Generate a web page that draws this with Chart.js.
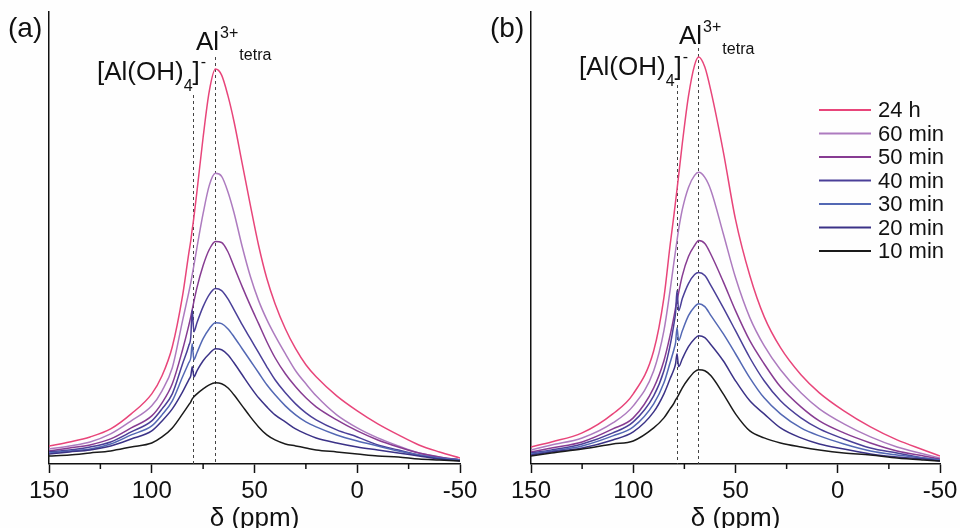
<!DOCTYPE html>
<html>
<head>
<meta charset="utf-8">
<script src="https://cdn.jsdelivr.net/npm/chart.js@4.4.1/dist/chart.umd.min.js"></script>
<style>
  html, body { margin: 0; padding: 0; background: #fefefe; }
  #page { position: relative; width: 960px; height: 528px; overflow: hidden; background: #fefefe; }
  .panel { position: absolute; top: 0; width: 480px; height: 528px; }
</style>
</head>
<body>
<div id="page">
  <div class="panel" style="left:0"><canvas id="chartA" width="480" height="528"></canvas></div>
  <div class="panel" style="left:480px"><canvas id="chartB" width="480" height="528"></canvas></div>
</div>
<script>
// series names, legend order (top to bottom)
const seriesNames = ['24 h', '60 min', '50 min', '40 min', '30 min', '20 min', '10 min'];

// x axis (ppm, reversed)
const xMin = -50, xMax = 150;
const majorTicks = [150, 100, 50, 0, -50];
const minorTicks = [125, 75, 25, -25];

// ---- panel (a) ----
const ppmA = [150, 140, 130, 120, 110, 100, 95, 90, 85, 82, 81, 80.3, 79.5, 78, 75, 72, 69, 66, 63, 60,
              56, 52, 48, 44, 40, 35, 30, 25, 20, 10, 0, -10, -20, -30, -40, -50];
const a24h  = [18, 22, 27, 35, 50, 70, 88, 117, 168, 210, 223, 234, 246, 272, 326, 372, 394, 388, 368, 342,
               300, 258, 218, 185, 160, 135, 115, 99, 87, 68, 53, 40, 29, 19, 12, 6];
const a60m  = [15, 18, 22, 30, 43, 58, 73, 96, 143, 171, 181, 189, 198, 216, 250, 278, 290, 287, 272, 251,
               217, 187, 163, 144, 128, 110, 93, 80, 68, 49, 36, 26, 18, 11, 7, 4];
const a50m  = [13, 16, 19, 25, 36, 48, 61, 80, 114, 138, 147, 154, 162, 176, 198, 214, 222, 221, 212, 197,
               177, 158, 140, 122, 106, 90, 77, 66, 57, 44, 33, 24, 17, 11, 7, 4];
const a40m  = [12, 14, 17, 22, 32, 43, 55, 70, 100, 118, 127, 154, 132, 141, 157, 169, 175, 173, 165, 154,
               139, 125, 111, 97, 84, 71, 60, 51, 44, 34, 27, 19, 14, 9, 6, 4];
const a30m  = [11, 13, 15, 20, 29, 38, 49, 63, 87, 101, 106, 120, 104, 111, 125, 135, 141, 140, 135, 127,
               115, 103, 91, 79, 69, 58, 49, 42, 37, 29, 23, 18, 13, 9, 6, 4];
const a20m  = [10, 12, 14, 18, 25, 33, 43, 55, 72, 84, 88, 97, 87, 93, 103, 110, 115, 114, 109, 101,
               89, 77, 66, 57, 49, 42, 35, 30, 26, 21, 17, 14, 11, 8, 5, 3];
const a10m  = [8, 9, 11, 13, 17, 21, 27, 36, 50, 59, 62, 65, 67, 70, 75, 79, 81, 80, 76, 69,
               58, 47, 37, 29, 24, 20, 18, 16, 14, 12, 10, 8, 7, 5, 4, 3];
const markersA = [80, 69];

// ---- panel (b) ----
const ppmB = [150, 140, 125, 110, 100, 90, 85, 82, 80, 79.3, 78.6, 77.8, 76, 73, 70, 68, 65, 62,
              56, 50, 43, 36, 28, 18, 9, -3, -16, -29, -42, -50];
const b24h  = [17, 22, 31, 50, 70, 113, 166, 218, 250, 262, 274, 288, 320, 367, 398, 406, 396, 372,
               312, 244, 188, 147, 116, 89, 71, 53, 37, 24, 14, 8];
const b60m  = [14, 19, 26, 41, 58, 93, 133, 173, 203, 213, 223, 234, 254, 276, 288, 291, 286, 273,
               230, 186, 146, 118, 94, 71, 55, 40, 27, 17, 10, 6];
const b50m  = [12, 16, 22, 35, 46, 76, 103, 128, 148, 156, 163, 171, 188, 207, 218, 223, 220, 209,
               182, 153, 123, 100, 77, 57, 43, 31, 21, 13, 8, 5];
const b40m  = [11, 14, 20, 31, 42, 68, 93, 118, 141, 151, 173, 153, 165, 180, 189, 191, 188, 178,
               156, 133, 106, 83, 63, 46, 35, 25, 16, 11, 6, 4];
const b30m  = [10, 13, 18, 28, 37, 60, 81, 101, 115, 121, 136, 123, 133, 148, 157, 160, 157, 148,
               130, 110, 86, 66, 50, 36, 28, 20, 13, 9, 6, 4];
const b20m  = [9, 12, 16, 24, 32, 52, 70, 85, 95, 100, 110, 97, 105, 117, 125, 128, 126, 119,
               103, 83, 63, 50, 36, 26, 20, 15, 10, 7, 5, 3];
const b10m  = [8, 11, 15, 20, 23, 36, 46, 55, 61, 64, 66, 69, 76, 85, 92, 94, 93, 88,
               70, 50, 33, 26, 21, 17, 14, 11, 9, 6, 4, 3];
const markersB = [78.6, 68.3];

// colours, same order as seriesNames
const lineColors = ['#e8457a', '#ad7bbf', '#873c92', '#4a3f98', '#5368b4', '#3b3287', '#1a1a1a'];

Chart.defaults.font.family = 'Arial, "Liberation Sans", sans-serif';
Chart.defaults.color = '#111';

// dashed marker lines, minor ticks, labels and legend
const decor = {
    id: 'decor',
    beforeDatasetsDraw(chart, args, opts) {
        const ctx = chart.ctx, xs = chart.scales.x, area = chart.chartArea;
        ctx.save();
        ctx.setLineDash([3, 3]);
        ctx.strokeStyle = '#444';
        ctx.lineWidth = 1;
        opts.markers.forEach((m, i) => {
            const px = Math.round(xs.getPixelForValue(m)) + 0.5;
            ctx.beginPath();
            ctx.moveTo(px, opts.markerTop[i]);
            ctx.lineTo(px, area.bottom);
            ctx.stroke();
        });
        ctx.restore();
    },
    afterDraw(chart, args, opts) {
        const ctx = chart.ctx, xs = chart.scales.x, area = chart.chartArea;
        ctx.save();
        // minor ticks
        ctx.strokeStyle = '#111';
        ctx.lineWidth = 1.5;
        minorTicks.forEach(v => {
            const px = xs.getPixelForValue(v);
            ctx.beginPath();
            ctx.moveTo(px, area.bottom);
            ctx.lineTo(px, area.bottom + 5);
            ctx.stroke();
        });
        // texts made of pieces (super/subscripts)
        ctx.fillStyle = '#111';
        ctx.textBaseline = 'alphabetic';
        ctx.textAlign = 'left';
        opts.texts.forEach(t => {
            let x = t.x;
            t.parts.forEach(p => {
                ctx.font = p.size + 'px Arial, "Liberation Sans", sans-serif';
                ctx.fillText(p.t, x + (p.dx || 0), t.y + (p.dy || 0));
                x += ctx.measureText(p.t).width + (p.dx || 0);
            });
        });
        // legend
        if (opts.legend) {
            const lg = opts.legend;
            ctx.font = '22px Arial, "Liberation Sans", sans-serif';
            ctx.textBaseline = 'middle';
            seriesNames.forEach((name, i) => {
                const y = lg.y0 + i * lg.dy;
                ctx.strokeStyle = lineColors[i];
                ctx.lineWidth = 2;
                ctx.beginPath();
                ctx.moveTo(lg.x0, y);
                ctx.lineTo(lg.x1, y);
                ctx.stroke();
                ctx.fillStyle = '#111';
                ctx.fillText(name, lg.tx, y + 1);
            });
        }
        ctx.restore();
    }
};

function makePanel(canvasId, ppm, values, padLeft, decorOpts) {
    const datasets = seriesNames.map((name, i) => ({
        label: name,
        data: ppm.map((x, j) => ({ x: x, y: values[i][j] })),
        borderColor: lineColors[i],
        borderWidth: 1.5,
        pointRadius: 0,
        cubicInterpolationMode: 'monotone',
        fill: false
    })).reverse();

    return new Chart(document.getElementById(canvasId), {
        type: 'line',
        data: { datasets: datasets },
        plugins: [decor],
        options: {
            responsive: false,
            animation: false,
            layout: { padding: { left: padLeft, right: 20, top: 12, bottom: -1 } },
            plugins: {
                legend: { display: false },
                tooltip: { enabled: false },
                decor: decorOpts
            },
            scales: {
                x: {
                    type: 'linear',
                    reverse: true,
                    min: xMin,
                    max: xMax,
                    afterBuildTicks: s => { s.ticks = majorTicks.map(v => ({ value: v })); },
                    // labels may overhang into the page margins
                    afterFit: s => { s.paddingLeft = 0; s.paddingRight = 0; },
                    ticks: {
                        autoSkip: false,
                        maxRotation: 0,
                        padding: 6,
                        font: { size: 24, lineHeight: 1 },
                        color: '#111',
                        callback: v => String(v)
                    },
                    grid: { drawOnChartArea: false, tickLength: 9, tickColor: '#111', tickWidth: 1.5 },
                    border: { color: '#111', width: 1.5 },
                    title: {
                        display: true,
                        text: 'δ (ppm)',
                        font: { size: 26, lineHeight: 0.77 },
                        color: '#111',
                        padding: 0
                    }
                },
                y: {
                    min: 0,
                    max: 451,
                    ticks: { display: false },
                    grid: { display: false, drawTicks: false },
                    border: { display: true, color: '#111', width: 1.5 }
                }
            }
        }
    });
}

makePanel('chartA', ppmA, [a24h, a60m, a50m, a40m, a30m, a20m, a10m], 49, {
    markers: markersA,
    markerTop: [95, 57],
    texts: [
        { x: 8, y: 37, parts: [{ t: '(a)', size: 28 }] },
        { x: 196, y: 50, parts: [{ t: 'Al', size: 26 }, { t: '3+', size: 16, dy: -12, dx: 1 }, { t: 'tetra', size: 16, dy: 10, dx: 1 }] },
        { x: 97, y: 80, parts: [{ t: '[Al(OH)', size: 26 }, { t: '4', size: 16, dy: 11 }, { t: ']', size: 26 }, { t: '-', size: 16, dy: -13, dx: 1 }] }
    ],
    legend: null
});

makePanel('chartB', ppmB, [b24h, b60m, b50m, b40m, b30m, b20m, b10m], 51, {
    markers: markersB,
    markerTop: [85, 48],
    texts: [
        { x: 10, y: 37, parts: [{ t: '(b)', size: 28 }] },
        { x: 199, y: 44, parts: [{ t: 'Al', size: 26 }, { t: '3+', size: 16, dy: -12, dx: 1 }, { t: 'tetra', size: 16, dy: 10, dx: 1 }] },
        { x: 99, y: 75, parts: [{ t: '[Al(OH)', size: 26 }, { t: '4', size: 16, dy: 11 }, { t: ']', size: 26 }, { t: '-', size: 16, dy: -13, dx: 1 }] }
    ],
    legend: { x0: 339, x1: 391, tx: 398, y0: 110, dy: 23.5 }
});
</script>
</body>
</html>
